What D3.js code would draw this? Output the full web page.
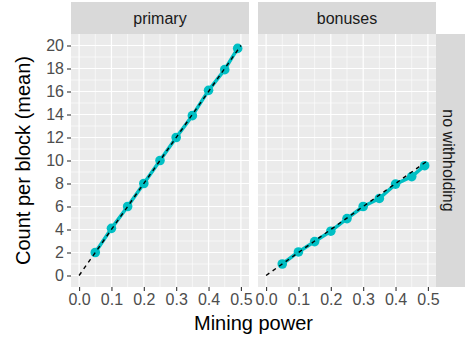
<!DOCTYPE html>
<html><head><meta charset="utf-8">
<script src="https://cdn.jsdelivr.net/npm/d3@7"></script>
<style>
html,body{margin:0;padding:0;background:#fff;}
svg{display:block;font-family:"Liberation Sans",Arial,Helvetica,sans-serif;}
</style></head>
<body>
<svg id="chart" width="465" height="343"></svg>
<script>
// ---- data ----
const panels = ["primary", "bonuses"];
const rowLabel = "no withholding";
const miningPower = [0.05, 0.10, 0.15, 0.20, 0.25, 0.30, 0.35, 0.40, 0.45, 0.49];
const primaryMean = [2.0, 4.1, 6.0, 8.0, 10.0, 12.0, 13.9, 16.1, 17.9, 19.75];
const bonusesMean = [1.0, 2.05, 2.95, 3.85, 4.95, 6.0, 6.7, 7.95, 8.6, 9.55];
const refPower = [0, 0.5];
const refPrimary = [0, 20];
const refBonuses = [0, 10];
const xTicks = [0, 0.1, 0.2, 0.3, 0.4, 0.5];
const xMinor = [0.05, 0.15, 0.25, 0.35, 0.45];
const yTicks = [0, 2, 4, 6, 8, 10, 12, 14, 16, 18, 20];
const yMinor = [1, 3, 5, 7, 9, 11, 13, 15, 17, 19];
const xTitle = "Mining power";
const yTitle = "Count per block (mean)";

const seriesByPanel = {
  primary: {y: primaryMean, ref: refPrimary},
  bonuses: {y: bonusesMean, ref: refBonuses}
};

// ---- layout ----
const svg = d3.select("#chart");
const panelTop = 34, panelBottom = 287;
const panelX = [[71, 249], [258, 436]];
const stripTop = 2;
const rightStrip = [436, 465];
const tickFont = 16, stripFont = 16, titleFont = 20;

const y = d3.scaleLinear().domain([-1, 21]).range([panelBottom, panelTop]);

panels.forEach((name, i) => {
  const [x0, x1] = panelX[i];
  const x = d3.scaleLinear().domain([-0.025, 0.525]).range([x0, x1]);
  const g = svg.append("g");
  g.append("rect").attr("x", x0).attr("y", panelTop).attr("width", x1 - x0)
    .attr("height", panelBottom - panelTop).attr("fill", "#EBEBEB");
  g.selectAll(".ymin").data(yMinor).join("line")
    .attr("x1", x0).attr("x2", x1).attr("y1", d => y(d)).attr("y2", d => y(d))
    .attr("stroke", "#fff").attr("stroke-width", 0.6);
  g.selectAll(".xmin").data(xMinor).join("line")
    .attr("y1", panelTop).attr("y2", panelBottom).attr("x1", d => x(d)).attr("x2", d => x(d))
    .attr("stroke", "#fff").attr("stroke-width", 0.6);
  g.selectAll(".ymaj").data(yTicks).join("line")
    .attr("x1", x0).attr("x2", x1).attr("y1", d => y(d)).attr("y2", d => y(d))
    .attr("stroke", "#fff").attr("stroke-width", 1.2);
  g.selectAll(".xmaj").data(xTicks).join("line")
    .attr("y1", panelTop).attr("y2", panelBottom).attr("x1", d => x(d)).attr("x2", d => x(d))
    .attr("stroke", "#fff").attr("stroke-width", 1.2);

  g.append("rect").attr("x", x0).attr("y", stripTop).attr("width", x1 - x0)
    .attr("height", panelTop - stripTop).attr("fill", "#D9D9D9");
  g.append("text").attr("x", (x0 + x1) / 2).attr("y", (stripTop + panelTop) / 2)
    .attr("dy", "0.35em").attr("text-anchor", "middle").attr("font-size", stripFont)
    .attr("fill", "#1A1A1A").text(name);

  const s = seriesByPanel[name];
  const pts = miningPower.map((p, k) => [p, s.y[k]]);
  g.append("path").datum(pts)
    .attr("d", d3.line().x(d => x(d[0])).y(d => y(d[1])))
    .attr("fill", "none").attr("stroke", "#00BFC4").attr("stroke-width", 3.5)
    .attr("stroke-linejoin", "round");
  g.selectAll(".pt").data(pts).join("circle")
    .attr("cx", d => x(d[0])).attr("cy", d => y(d[1])).attr("r", 4.8)
    .attr("fill", "#00BFC4");
  const ref = refPower.map((p, k) => [p, s.ref[k]]);
  g.append("path").datum(ref)
    .attr("d", d3.line().x(d => x(d[0])).y(d => y(d[1])))
    .attr("fill", "none").attr("stroke", "#000").attr("stroke-width", 1.4)
    .attr("stroke-dasharray", "4,4");

  const ax = g.append("g").attr("transform", `translate(0,${panelBottom})`)
    .call(d3.axisBottom(x).tickValues(xTicks).tickFormat(d3.format(".1f"))
      .tickSizeInner(4).tickSizeOuter(0).tickPadding(3));
  ax.select(".domain").remove();
  ax.selectAll("line").attr("stroke", "#333333").attr("stroke-width", 1.1);
  ax.selectAll("text").attr("fill", "#4D4D4D").attr("font-size", tickFont)
    .attr("font-family", null);

  if (i === 0) {
    const ay = g.append("g").attr("transform", `translate(${x0},0)`)
      .call(d3.axisLeft(y).tickValues(yTicks).tickSizeInner(4).tickSizeOuter(0).tickPadding(3));
    ay.select(".domain").remove();
    ay.selectAll("line").attr("stroke", "#333333").attr("stroke-width", 1.1);
    ay.selectAll("text").attr("fill", "#4D4D4D").attr("font-size", tickFont)
      .attr("font-family", null);
  }
});

svg.append("rect").attr("x", rightStrip[0]).attr("y", panelTop)
  .attr("width", rightStrip[1] - rightStrip[0]).attr("height", panelBottom - panelTop)
  .attr("fill", "#D9D9D9");
svg.append("text")
  .attr("transform", `translate(449,${(panelTop + panelBottom) / 2}) rotate(90)`)
  .attr("dy", "0.35em").attr("text-anchor", "middle").attr("font-size", stripFont)
  .attr("fill", "#1A1A1A").text(rowLabel);

svg.append("text").attr("x", (panelX[0][0] + panelX[1][1]) / 2).attr("y", 330)
  .attr("text-anchor", "middle").attr("font-size", titleFont).attr("fill", "#000").text(xTitle);
svg.append("text")
  .attr("transform", `translate(30,${(panelTop + panelBottom) / 2}) rotate(-90)`)
  .attr("text-anchor", "middle").attr("font-size", titleFont).attr("fill", "#000").text(yTitle);
</script>
</body></html>
